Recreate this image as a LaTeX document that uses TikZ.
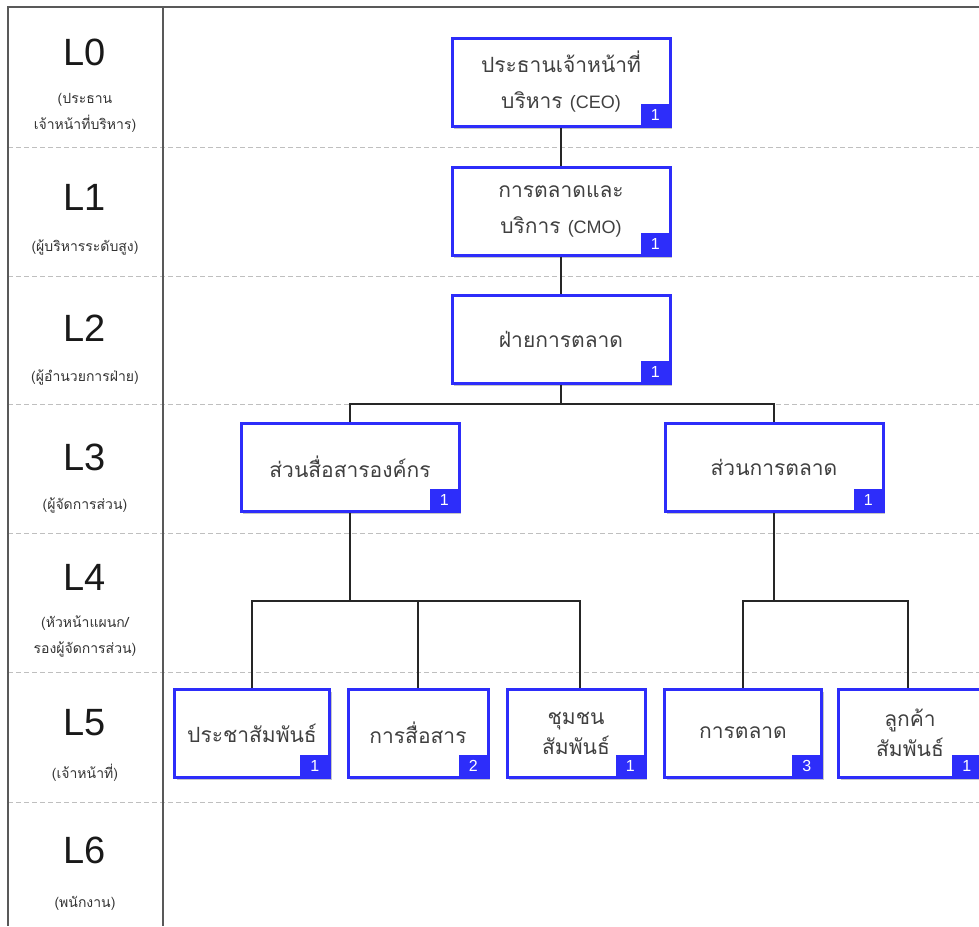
\documentclass[tikz,border=0pt]{standalone}
\usepackage{fontspec}
\setmainfont{Liberation Sans}
\newfontfamily\thai[Script=Thai]{Loma}
\usetikzlibrary{shadows}
\definecolor{orgblue}{RGB}{45,45,250}

\begin{document}
\begin{tikzpicture}[x=1pt,y=-1pt,
    unit/.style={draw=orgblue, line width=3pt, fill=white, minimum width=218pt,
      minimum height=88pt, inner sep=2pt, align=center, text=black!75,
      font=\thai\fontsize{21}{36}\selectfont,
      drop shadow={shadow xshift=2pt, shadow yshift=-2.5pt, opacity=0.45}},
    badge/.style={fill=orgblue, text=white, minimum width=29pt, minimum height=22pt,
      inner sep=0pt, anchor=south east, font=\fontsize{16}{16}\selectfont},
    link/.style={draw=black!85, line width=1.2pt},
    frame/.style={draw=black!65, line width=1.6pt},
    row/.style={draw=black!25, line width=1pt, dash pattern=on 5pt off 3pt},
    level/.style={font=\fontsize{38}{38}\selectfont, text=black!90},
    note/.style={font=\thai\fontsize{14}{26}\selectfont, align=center, text=black!80}]

    \useasboundingbox (0,0) rectangle (979,926);

    % frame and rows
    \foreach \y in {147,276,404,533,672,802}
        \draw [row] (8,\y) -- (979,\y);
    \draw [frame] (979,7) -- (8,7) -- (8,926);
    \draw [frame] (163,7) -- (163,926);

    % levels
    \node [level] (l0) at (85,52) {L0};
    \node [note] (l0n) at (85,113) {(ประธาน\\เจ้าหน้าที่บริหาร)};
    \node [level] (l1) at (85,197) {L1};
    \node [note] (l1n) at (85,247) {(ผู้บริหารระดับสูง)};
    \node [level] (l2) at (85,328) {L2};
    \node [note] (l2n) at (85,377) {(ผู้อำนวยการฝ่าย)};
    \node [level] (l3) at (85,457) {L3};
    \node [note] (l3n) at (85,505) {(ผู้จัดการส่วน)};
    \node [level] (l4) at (85,577) {L4};
    \node [note] (l4n) at (85,636) {(หัวหน้าแผนก/\\รองผู้จัดการส่วน)};
    \node [level] (l5) at (85,723) {L5};
    \node [note] (l5n) at (85,773) {(เจ้าหน้าที่)};
    \node [level] (l6) at (85,850) {L6};
    \node [note] (l6n) at (85,903) {(พนักงาน)};

    % units
    \node [unit] (ceo) at (561,82) {ประธานเจ้าหน้าที่\\บริหาร {\rmfamily\fontsize{18}{36}\selectfont (CEO)}};
    \node [unit] (cmo) at (561,211) {การตลาดและ\\บริการ {\rmfamily\fontsize{18}{36}\selectfont (CMO)}};
    \node [unit] (mktdiv) at (561,339) {ฝ่ายการตลาด};
    \node [unit] (corpcom) at (350,467) {ส่วนสื่อสารองค์กร};
    \node [unit] (mktsec) at (774,467) {ส่วนการตลาด};

    \node [unit, minimum width=155pt] (pr) at (252,733) {ประชาสัมพันธ์};
    \node [unit, minimum width=140pt] (comm) at (418,733) {การสื่อสาร};
    \node [unit, minimum width=138pt, font=\thai\fontsize{21}{30}\selectfont] (community) at (576,733) {ชุมชน\\สัมพันธ์};
    \node [unit, minimum width=157pt] (mkt) at (743,733) {การตลาด};
    \node [unit, minimum width=143pt, font=\thai\fontsize{21}{30}\selectfont] (crm) at (910,733) {ลูกค้า\\สัมพันธ์};

    % head counts
    \node [badge] (ceo-n) at ([shift={(-1.5,-1.5)}]ceo.south east) {1};
    \node [badge] (cmo-n) at ([shift={(-1.5,-1.5)}]cmo.south east) {1};
    \node [badge] (mktdiv-n) at ([shift={(-1.5,-1.5)}]mktdiv.south east) {1};
    \node [badge] (corpcom-n) at ([shift={(-1.5,-1.5)}]corpcom.south east) {1};
    \node [badge] (mktsec-n) at ([shift={(-1.5,-1.5)}]mktsec.south east) {1};
    \node [badge] (pr-n) at ([shift={(-1.5,-1.5)}]pr.south east) {1};
    \node [badge] (comm-n) at ([shift={(-1.5,-1.5)}]comm.south east) {2};
    \node [badge] (community-n) at ([shift={(-1.5,-1.5)}]community.south east) {1};
    \node [badge] (mkt-n) at ([shift={(-1.5,-1.5)}]mkt.south east) {3};
    \node [badge] (crm-n) at ([shift={(-1.5,-1.5)}]crm.south east) {1};

    % links
    \coordinate (j2) at (561,404);
    \coordinate (j3a) at (350,601);
    \coordinate (j3b) at (774,601);

    \draw [link] (ceo.south) -- (cmo.north);
    \draw [link] (cmo.south) -- (mktdiv.north);
    \draw [link] (mktdiv.south) -- (j2);
    \draw [link] (corpcom.north) -- (corpcom.north |- j2) -- (mktsec.north |- j2) -- (mktsec.north);

    \draw [link] (corpcom.south) -- (j3a);
    \draw [link] (pr.north) -- (pr.north |- j3a) -- ([xshift=4pt]community.north |- j3a) -- ([xshift=4pt]community.north);
    \draw [link] (comm.north) -- (comm.north |- j3a);

    \draw [link] (mktsec.south) -- (j3b);
    \draw [link] (mkt.north) -- (mkt.north |- j3b) -- ([xshift=-2pt]crm.north |- j3b) -- ([xshift=-2pt]crm.north);

\end{tikzpicture}
\end{document}
